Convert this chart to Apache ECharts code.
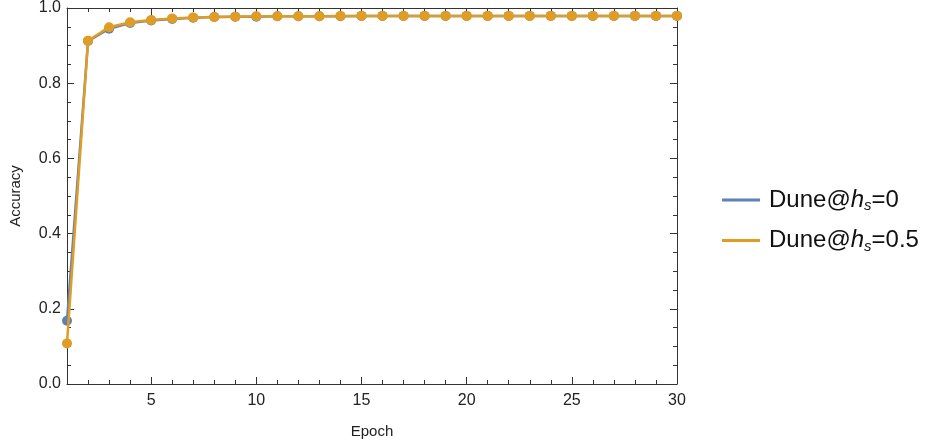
<!DOCTYPE html>
<html>
<head>
<meta charset="utf-8">
<script src="https://cdn.jsdelivr.net/npm/echarts@6/dist/echarts.min.js"></script>
<style>
html,body{margin:0;padding:0;background:#fff;}
#c{width:926px;height:446px;}
</style>
</head>
<body>
<div id="c"></div>
<script>
const epochs = [1,2,3,4,5,6,7,8,9,10,11,12,13,14,15,16,17,18,19,20,21,22,23,24,25,26,27,28,29,30];
const accH0 = [0.168,0.912,0.945,0.960,0.967,0.971,0.974,0.976,0.977,0.977,0.978,0.978,0.978,0.978,0.979,0.979,0.979,0.979,0.979,0.979,0.979,0.979,0.979,0.979,0.979,0.979,0.979,0.979,0.979,0.979];
const accH05 = [0.108,0.913,0.949,0.962,0.968,0.972,0.975,0.976,0.977,0.978,0.978,0.978,0.978,0.979,0.979,0.979,0.979,0.979,0.979,0.979,0.979,0.979,0.979,0.979,0.979,0.979,0.979,0.979,0.979,0.979];
const xMajorTicks = [5,10,15,20,25,30];
const seriesNames = ['Dune@h_s=0','Dune@h_s=0.5'];
const legendRich = {'Dune@h_s=0':'{n|Dune@}{i|h}{s|s}{n|=0}','Dune@h_s=0.5':'{n|Dune@}{i|h}{s|s}{n|=0.5}'};

const FONT = 'Liberation Sans, Arial, sans-serif';
const AX = '#333';
const chart = echarts.init(document.getElementById('c'), null, {renderer:'canvas'});

function xAx(pos, major, labels){
  return {
    type:'value', position:pos, min:1, max:30,
    axisLine:{show:major, onZero:false, lineStyle:{color:AX, width:1}},
    axisTick:{show:true, inside:true, length: major?7:4, lineStyle:{color:AX},
      customValues: major ? xMajorTicks : epochs},
    axisLabel:{show:labels, customValues:xMajorTicks, color:'#222', fontSize:16, fontFamily:FONT, margin:9},
    splitLine:{show:false},
    name: labels ? 'Epoch' : '', nameLocation:'middle', nameGap:40,
    nameTextStyle:{color:'#222', fontSize:15, fontFamily:FONT}
  };
}
function yAx(pos, labels){
  return {
    type:'value', position:pos, min:0, max:1, interval:0.2,
    axisLine:{show:true, onZero:false, lineStyle:{color:AX, width:1}},
    axisTick:{show:true, inside:true, length:7, lineStyle:{color:AX}},
    minorTick:{show:true, splitNumber:4, length:4, lineStyle:{color:AX}},
    axisLabel:{show:labels, color:'#222', fontSize:16, fontFamily:FONT, margin:6,
      formatter: v => v.toFixed(1)},
    splitLine:{show:false}, minorSplitLine:{show:false},
    name: labels ? 'Accuracy' : '', nameLocation:'middle', nameGap:44,
    nameTextStyle:{color:'#222', fontSize:15, fontFamily:FONT}
  };
}

const colors = ['#5E81B5','#E19C24'];
const dataSets = [accH0, accH05];

chart.setOption({
  animation:false,
  backgroundColor:'#fff',
  grid:{left:67, right:249, top:8, bottom:62, containLabel:false},
  xAxis:[xAx('bottom',true,true), xAx('bottom',false,false), xAx('top',true,false), xAx('top',false,false)],
  yAxis:[yAx('left',true), yAx('right',false)],
  legend:{
    orient:'vertical', left:717, top:183, icon:'rect', itemWidth:38, itemHeight:3, itemGap:15,
    data: seriesNames,
    formatter: n => legendRich[n],
    textStyle:{
      padding:[0,0,0,4],
      rich:{
        n:{fontSize:24, fontFamily:FONT, color:'#111', lineHeight:27},
        i:{fontSize:24, fontFamily:FONT, fontStyle:'italic', color:'#111', lineHeight:27},
        s:{fontSize:15, fontFamily:FONT, fontStyle:'italic', color:'#111', lineHeight:27, verticalAlign:'bottom'}
      }
    }
  },
  series: seriesNames.map((nm,k)=>({
    name:nm, type:'line', xAxisIndex:0, yAxisIndex:0,
    data: epochs.map((e,i)=>[e, dataSets[k][i]]),
    symbol:'circle', symbolSize:10, showSymbol:true,
    color:colors[k],
    lineStyle:{width:2.5, color:colors[k]},
    itemStyle:{color:colors[k]},
    clip:false, z:2+k
  }))
});
</script>
</body>
</html>
